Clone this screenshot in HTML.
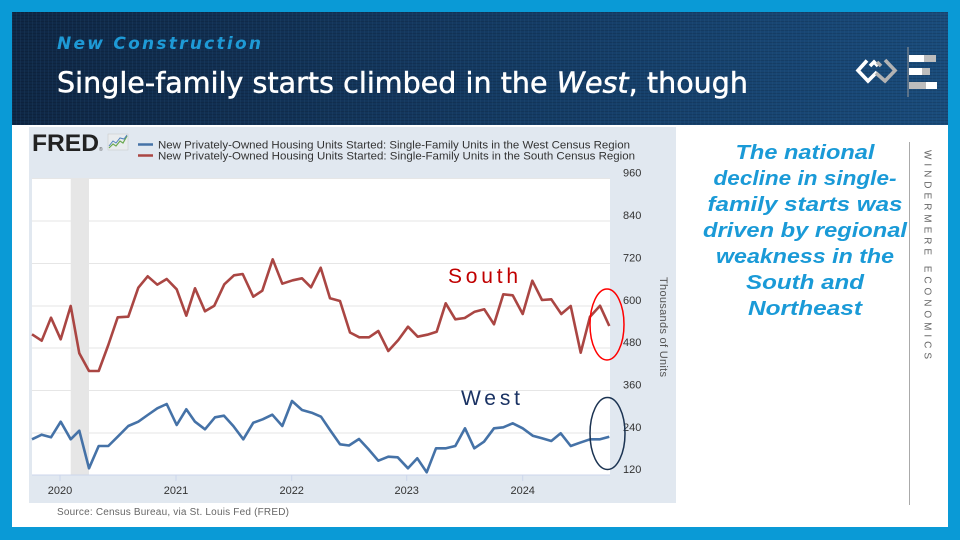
<!DOCTYPE html>
<html><head><meta charset="utf-8"><style>
html,body{margin:0;padding:0;background:#fff;}
svg{display:block;}
text{font-family:"Liberation Sans",Arial,sans-serif;}
.dj{font-family:"DejaVu Sans","Liberation Sans",sans-serif;}
</style></head><body>
<svg width="960" height="540" viewBox="0 0 960 540" xmlns="http://www.w3.org/2000/svg">
<defs>
<linearGradient id="hdr" x1="0" y1="0" x2="1" y2="0">
<stop offset="0" stop-color="#0f2745"/>
<stop offset="0.55" stop-color="#153c65"/>
<stop offset="1" stop-color="#1a4c7c"/>
</linearGradient>
<pattern id="tex" width="4" height="3" patternUnits="userSpaceOnUse">
<rect width="4" height="1" fill="#000" opacity="0.12"/>
<rect x="0" y="0" width="1" height="3" fill="#3a6a9a" opacity="0.12"/>
</pattern>
</defs>
<!-- outer border -->
<rect x="0" y="0" width="960" height="540" fill="#0a9ad6"/>
<rect x="12" y="12" width="936" height="515" fill="#ffffff"/>
<!-- header -->
<rect x="12" y="12" width="936" height="113" fill="url(#hdr)"/>
<rect x="12" y="12" width="936" height="113" fill="url(#tex)"/>
<text class="dj" x="57" y="49" font-size="17" font-weight="bold" font-style="italic" fill="#1e9ad6" textLength="204" lengthAdjust="spacing">New Construction</text>
<text class="dj" x="57" y="92.5" font-size="28.5" fill="#ffffff" stroke="#ffffff" stroke-width="0.5" textLength="691" lengthAdjust="spacing">Single-family starts climbed in the <tspan font-style="italic">West</tspan>, though</text>
<!-- logo -->
<g fill="none" stroke-width="3.6" stroke-linejoin="miter" stroke-linecap="butt">
<polyline points="867,60.5 858,70.5 868,81 877,72" stroke="#ffffff"/>
<polyline points="870,66 874,62 878,66" stroke="#ffffff"/>
<polyline points="885,60 895,70.5 885,81 876,73" stroke="#b3b3b3"/>
<polyline points="881,66 877,62" stroke="#b3b3b3"/>
</g>
<line x1="908" y1="47" x2="908" y2="97" stroke="#9a9a9a" stroke-width="1"/>
<rect x="909" y="55" width="15" height="7" fill="#ffffff"/>
<rect x="924" y="55" width="12" height="7" fill="#bdbdbd"/>
<rect x="909" y="68" width="13" height="7" fill="#ffffff"/>
<rect x="922" y="68" width="8" height="7" fill="#bdbdbd"/>
<rect x="909" y="82" width="17" height="7" fill="#bdbdbd"/>
<rect x="926" y="82" width="11" height="7" fill="#ffffff"/>

<!-- chart panel -->
<rect x="29" y="127" width="647" height="376" fill="#e1e8f0"/>
<rect x="32" y="178" width="578" height="297" fill="#ffffff"/>
<!-- recession -->
<rect x="70.7" y="178" width="18.3" height="297" fill="#e6e6e6"/>
<!-- gridlines -->
<g stroke="#e6e6e6" stroke-width="1">
<line x1="32" y1="178.5" x2="610" y2="178.5"/>
<line x1="32" y1="221" x2="610" y2="221"/>
<line x1="32" y1="263.5" x2="610" y2="263.5"/>
<line x1="32" y1="306" x2="610" y2="306"/>
<line x1="32" y1="348" x2="610" y2="348"/>
<line x1="32" y1="390.5" x2="610" y2="390.5"/>
<line x1="32" y1="433" x2="610" y2="433"/>
</g>
<line x1="32" y1="475" x2="610" y2="475" stroke="#ccd6eb" stroke-width="1"/>
<g stroke="#ccd6eb" stroke-width="1">
<line x1="60" y1="475" x2="60" y2="481"/>
<line x1="176" y1="475" x2="176" y2="481"/>
<line x1="291.7" y1="475" x2="291.7" y2="481"/>
<line x1="406.7" y1="475" x2="406.7" y2="481"/>
<line x1="522.7" y1="475" x2="522.7" y2="481"/>
</g>
<!-- y labels -->
<g font-size="11" fill="#333333">
<text x="623" y="176.5">960</text>
<text x="623" y="219">840</text>
<text x="623" y="261.5">720</text>
<text x="623" y="304">600</text>
<text x="623" y="346">480</text>
<text x="623" y="388.5">360</text>
<text x="623" y="431">240</text>
<text x="623" y="473">120</text>
</g>
<g font-size="11" fill="#333333" text-anchor="middle">
<text x="60" y="494">2020</text>
<text x="176" y="494">2021</text>
<text x="291.7" y="494">2022</text>
<text x="406.7" y="494">2023</text>
<text x="522.7" y="494">2024</text>
</g>
<text transform="translate(660,277) rotate(90)" font-size="11" fill="#555555" textLength="100" lengthAdjust="spacing">Thousands of Units</text>

<!-- series -->
<polyline fill="none" stroke="#aa4643" stroke-width="2.6" stroke-linejoin="round" points="32,334.3 41.7,340.7 51,317.7 60.7,339.3 70.7,306 79.3,353.3 89,371 98.7,371 108.3,345 117.7,317.3 128.3,316.7 138.3,287.7 147.7,276.3 157.3,284.7 166.7,279 176.7,289.3 186.3,315.7 195,288.3 205,311.3 214.3,305.7 224.3,284.3 234,275.3 242.7,274 253.3,296.7 262.3,290.7 272.7,259.3 282.3,283.7 292.7,280.3 302,278.3 311,287.3 320.7,267.7 330,298.3 340,301 350,332.5 359.3,337.3 369,337.3 378.3,331 388.3,351 398.3,340 408,326.7 417.7,336.7 427.3,334.7 436.7,331.7 445.7,303.3 455.3,319.3 464.7,318 474.7,311.7 484.3,309.3 494,324.3 503.3,294.3 512.7,295.3 522.7,314 532.3,280.7 542,300 551.3,299.3 561.3,314 570.7,306 580.7,352.7 590,316.7 600,305.7 609.3,326"/>
<polyline fill="none" stroke="#4572a7" stroke-width="2.6" stroke-linejoin="round" points="32,439.3 41.7,434.7 51,437.3 60.7,421.7 70.7,439.3 79.3,430.7 89,468.3 98.7,446 108.3,446 117.7,436.7 128.3,426 138.3,421.7 147.7,415 157.3,408.3 166.7,404 176.7,425 186.3,409.3 195,421.7 205,429.3 215,417.3 224,415.7 233.3,426 243.3,439.3 253.3,422.7 262.7,419.3 272.3,414.7 282.3,426 292,401 302,410 311.7,412.7 321,416.7 330,430 340,444.3 349,445.5 359,439 368.3,449 378.3,460.7 388.3,456.7 397.7,457.3 408,468.3 417.3,458.3 426.7,472.3 436,448.3 446,448.3 455.3,446 465,428.3 474.3,448.3 484,441.7 494,428.3 503.3,427.3 512.7,423.3 522.7,428.3 532.7,435.7 542,438.3 551.3,441 560.7,433.3 570.7,446 580,442.7 590,439.3 600,439.3 609.3,436.7"/>

<!-- annotations -->
<text x="448" y="283" font-size="21" fill="#c00000" textLength="70" lengthAdjust="spacing">South</text>
<text x="461" y="405" font-size="21" fill="#1a3263" textLength="59" lengthAdjust="spacing">West</text>
<ellipse cx="607" cy="324.5" rx="17" ry="35.5" fill="none" stroke="#ff0000" stroke-width="1.5"/>
<ellipse cx="607.5" cy="433.5" rx="17.5" ry="36" fill="none" stroke="#1b3352" stroke-width="1.5"/>

<!-- FRED header -->
<text x="32" y="151" font-size="24" font-weight="bold" fill="#222222" textLength="67" lengthAdjust="spacingAndGlyphs">FRED</text>
<text x="99" y="151" font-size="5" fill="#555">®</text>
<rect x="108" y="134" width="20" height="16" fill="#e9ecee" stroke="#cccccc" stroke-width="0.6"/>
<polyline points="109,148 113,144 116,146 120,141 123,143 127,136" fill="none" stroke="#6aa84f" stroke-width="1.2"/>
<polyline points="109,146 113,141 116,143 120,138 124,139 127,135" fill="none" stroke="#4f81bd" stroke-width="1"/>
<line x1="138" y1="144.5" x2="153" y2="144.5" stroke="#4572a7" stroke-width="2.5"/>
<line x1="138" y1="155.5" x2="153" y2="155.5" stroke="#aa4643" stroke-width="2.5"/>
<text x="158" y="148.5" font-size="11" fill="#333333" textLength="472" lengthAdjust="spacingAndGlyphs">New Privately-Owned Housing Units Started: Single-Family Units in the West Census Region</text>
<text x="158" y="159.5" font-size="11" fill="#333333" textLength="477" lengthAdjust="spacingAndGlyphs">New Privately-Owned Housing Units Started: Single-Family Units in the South Census Region</text>

<text x="57" y="515" font-size="10" fill="#666666" textLength="232" lengthAdjust="spacing">Source: Census Bureau, via St. Louis Fed (FRED)</text>

<!-- right text -->
<g class="dj" font-size="20.5" font-weight="bold" font-style="italic" fill="#1a9ad7" text-anchor="middle">
<text x="805" y="159" textLength="139" lengthAdjust="spacingAndGlyphs">The national</text>
<text x="805" y="185" textLength="183" lengthAdjust="spacingAndGlyphs">decline in single-</text>
<text x="805" y="211" textLength="195" lengthAdjust="spacingAndGlyphs">family starts was</text>
<text x="805" y="237" textLength="204" lengthAdjust="spacingAndGlyphs">driven by regional</text>
<text x="805" y="263" textLength="178" lengthAdjust="spacingAndGlyphs">weakness in the</text>
<text x="805" y="289" textLength="118" lengthAdjust="spacingAndGlyphs">South and</text>
<text x="805" y="315" textLength="114" lengthAdjust="spacingAndGlyphs">Northeast</text>
</g>
<line x1="909.5" y1="142" x2="909.5" y2="505" stroke="#aaaaaa" stroke-width="1"/>
<text transform="translate(924.5,150) rotate(90)" font-size="10" fill="#666666" textLength="209" lengthAdjust="spacing">WINDERMERE ECONOMICS</text>
</svg>
</body></html>
